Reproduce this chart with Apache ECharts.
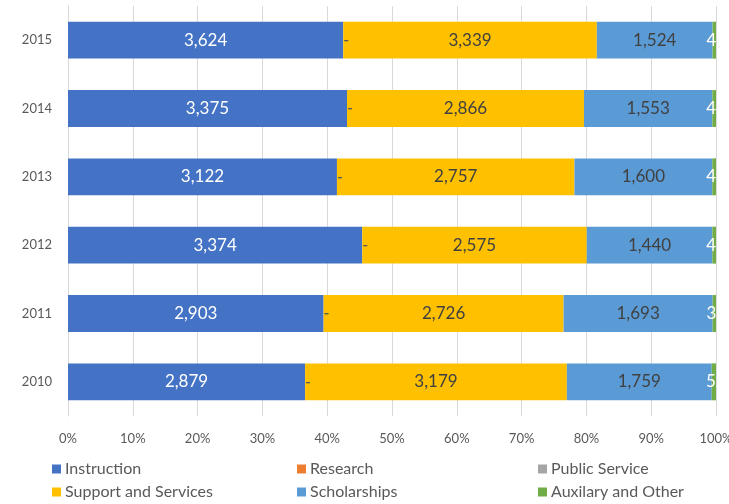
<!DOCTYPE html>
<html><head><meta charset="utf-8">
<script src="https://cdn.jsdelivr.net/npm/echarts@6/dist/echarts.min.js"></script>
<style>html,body{margin:0;padding:0;background:#fff}#c{width:729px;height:504px}</style>
</head><body><div id="c"></div>
<script>
const years = ['2010','2011','2012','2013','2014','2015'];
const instruction = [2879, 2903, 3374, 3122, 3375, 3624];
const research = [0, 0, 0, 0, 0, 0];
const publicService = [0, 0, 0, 0, 0, 0];
const support = [3179, 2726, 2575, 2757, 2866, 3339];
const scholarships = [1759, 1693, 1440, 1600, 1553, 1524];
const auxiliary = [52, 38, 42, 43, 44, 45];
const xTicks = [0, 0.1, 0.2, 0.3, 0.4, 0.5, 0.6, 0.7, 0.8, 0.9, 1.0];

const seriesDefs = [
  {name:'Instruction', data:instruction, color:'#4472C4', label:'#ffffff'},
  {name:'Research', data:research, color:'#ED7D31', label:'#595959', dash:true},
  {name:'Public Service', data:publicService, color:'#A5A5A5', label:'#595959', dash:true},
  {name:'Support and Services', data:support, color:'#FFC000', label:'#404040'},
  {name:'Scholarships', data:scholarships, color:'#5B9BD5', label:'#404040'},
  {name:'Auxilary and Other', data:auxiliary, color:'#70AD47', label:'#ffffff', edge:true}
];
const totals = years.map((y,i)=>seriesDefs.reduce((s,d)=>s+d.data[i],0));
const fmt = v => v.toLocaleString('en-US');
const FONT = 'Lato';

const series = seriesDefs.map(d=>({
  name:d.name, type:'bar', stack:'all', barWidth:'54%',
  itemStyle:{color:d.color},
  data:d.data.map((v,i)=>({value:v/totals[i], raw:v})),
  label:{show:true, position:'inside', color:d.label, fontFamily:FONT,
    fontSize: d.dash?15:17, offset: d.dash?[3,0]:(d.edge?[2,0]:[0,0]),
    formatter:p=> d.dash ? '-' : fmt(p.data.raw)},
  emphasis:{disabled:true}
}));

const legendPos = [
  {n:'Instruction', l:52, t:461},
  {n:'Research', l:297, t:461},
  {n:'Public Service', l:538, t:461},
  {n:'Support and Services', l:52, t:484},
  {n:'Scholarships', l:297, t:484},
  {n:'Auxilary and Other', l:538, t:484}
];
const legends = legendPos.map(p=>({
  data:[p.n], left:p.l, top:p.t, itemWidth:9, itemHeight:9, itemGap:4, padding:0,
  icon:'rect', selectedMode:false,
  textStyle:{color:'#595959', fontSize:16, fontFamily:FONT, padding:[0,0,0,-1]}
}));

const chart = echarts.init(document.getElementById('c'), null, {renderer:'canvas'});
chart.setOption({
  animation:false,
  backgroundColor:'#fff',
  grid:{left:68, right:13, top:6, bottom:88, containLabel:false, outerBoundsMode:'none'},
  legend:legends,
  xAxis:{type:'value', min:0, max:1, interval:0.1,
    axisLine:{show:false}, axisTick:{show:false},
    splitLine:{show:true, lineStyle:{color:'#d9d9d9', width:1}},
    axisLabel:{color:'#595959', fontSize:13, fontFamily:FONT, margin:16,
      formatter:v=>{const t=xTicks.find(x=>Math.abs(x-v)<1e-9); return Math.round((t!==undefined?t:v)*100)+'%';}}},
  yAxis:{type:'category', data:years,
    axisLine:{show:true, lineStyle:{color:'#d9d9d9'}}, axisTick:{show:false},
    axisLabel:{color:'#595959', fontSize:13, fontFamily:FONT, margin:16}},
  graphic:[{type:'rect', left:717, top:0, shape:{width:12, height:418}, style:{fill:'#fff'}, z:100}],
  series:series
});
</script></body></html>
